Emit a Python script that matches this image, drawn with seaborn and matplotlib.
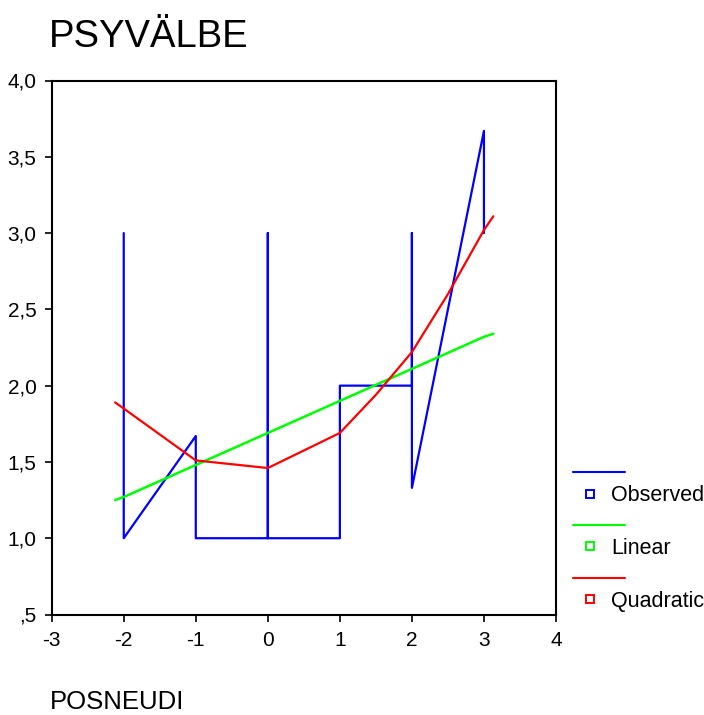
import matplotlib
matplotlib.use("Agg")
import matplotlib.pyplot as plt
import seaborn as sns
import pandas as pd
from matplotlib.lines import Line2D

# ---- data ----
obs_x = [-2, -2, -1, -1, 0, 0, 0, 1, 1, 2, 2, 2, 3, 3]
obs_y = [3.0, 1.0, 1.67, 1.0, 1.0, 3.0, 1.0, 1.0, 2.0, 2.0, 3.0, 1.33, 3.67, 3.0]

lin_x = [-2.12, -2, -1, 0, 1, 2, 3, 3.13]
lin_y = [1.25, 1.27, 1.48, 1.69, 1.90, 2.11, 2.32, 2.34]

quad_x = [-2.12, -2, -1, 0, 1, 1.5, 2, 2.5, 3, 3.13]
quad_y = [1.89, 1.85, 1.51, 1.46, 1.69, 1.94, 2.22, 2.60, 3.02, 3.11]

x_ticks = [-3, -2, -1, 0, 1, 2, 3, 4]
x_tick_labels = ["-3", "-2", "-1", "0", "1", "2", "3", "4"]
y_ticks = [0.5, 1.0, 1.5, 2.0, 2.5, 3.0, 3.5, 4.0]
y_tick_labels = [",5", "1,0", "1,5", "2,0", "2,5", "3,0", "3,5", "4,0"]

series_names = ["Observed", "Linear", "Quadratic"]
series_colors = ["#0000ff", "#00ff00", "#ff0000"]
title_text = "PSYVÄLBE"
xlabel_text = "POSNEUDI"

# ---- styling ----
sns.set_style("white")
plt.rcParams["font.family"] = ["Liberation Sans", "DejaVu Sans"]
plt.rcParams["text.color"] = "black"
plt.rcParams["xtick.color"] = "black"
plt.rcParams["ytick.color"] = "black"

W, H = 704, 715
fig = plt.figure(figsize=(W / 100, H / 100), dpi=100)
ax = fig.add_axes([51.7 / W, 1 - 614.5 / H, (556 - 51.7) / W, (614.5 - 80.5) / H])

obs_df = pd.DataFrame({"x": obs_x, "y": obs_y})
lin_df = pd.DataFrame({"x": lin_x, "y": lin_y})
quad_df = pd.DataFrame({"x": quad_x, "y": quad_y})

lw = 1.6
sns.lineplot(data=obs_df, x="x", y="y", sort=False, estimator=None,
             color=series_colors[0], lw=lw, ax=ax)
sns.lineplot(data=lin_df, x="x", y="y", sort=False, estimator=None,
             color=series_colors[1], lw=1.8, ax=ax)
sns.lineplot(data=quad_df, x="x", y="y", sort=False, estimator=None,
             color=series_colors[2], lw=lw, ax=ax)

ax.set_xlim(-3, 4)
ax.set_ylim(0.5, 4.0)
ax.set_xticks(x_ticks)
ax.set_xticklabels(x_tick_labels)
ax.set_yticks(y_ticks)
ax.set_yticklabels(y_tick_labels)
ax.set_xlabel("")
ax.set_ylabel("")
for sp in ax.spines.values():
    sp.set_visible(True)
    sp.set_color("black")
    sp.set_linewidth(1.5)
ax.tick_params(axis="both", which="both", direction="out", length=5, width=1.2,
               color="black", labelsize=15, labelcolor="black")
ax.tick_params(axis="x", pad=7, bottom=True, top=False)
ax.tick_params(axis="y", pad=6, left=True, right=False)

# ---- title and axis label ----
fig.text(49 / W, 1 - 47 / H, title_text, fontsize=27.5, va="baseline", ha="left",
         color="black")
fig.text(50 / W, 1 - 709 / H, xlabel_text, fontsize=18.5, va="baseline", ha="left",
         color="black")

# ---- legend (SPSS style) ----
line_y = [471.5, 524.5, 577.5]
mark_y = [493.5, 546.0, 599.0]
for name, col, ly, my in zip(series_names, series_colors, line_y, mark_y):
    fig.add_artist(Line2D([573 / W, 625 / W], [1 - ly / H] * 2,
                          transform=fig.transFigure, color=col, lw=1.5))
    fig.add_artist(Line2D([589.5 / W], [1 - my / H], transform=fig.transFigure,
                          marker="s", markersize=5.5, mfc="none", mec=col,
                          mew=1.4, ls="none"))
    fig.text(611 / W, 1 - (my + 2) / H, name, fontsize=15.5, va="center", ha="left",
             color="black")

fig.savefig("out.png", dpi=100, facecolor="white")
